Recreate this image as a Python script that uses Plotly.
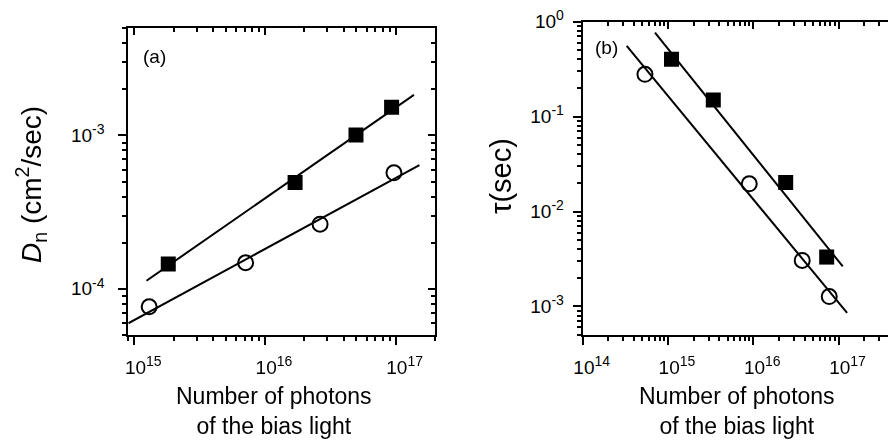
import math
import plotly.graph_objects as go

# ---------------- data ----------------
# Panel (a): D_n vs number of photons
a_sq_x = [1.82e15, 1.70e16, 4.97e16, 9.31e16]
a_sq_y = [1.45e-4, 4.94e-4, 1.007e-3, 1.53e-3]
a_ci_x = [1.30e15, 7.11e15, 2.64e16, 9.70e16]
a_ci_y = [7.64e-5, 1.48e-4, 2.64e-4, 5.71e-4]
a_sq_fit_x = [1.24e15, 1.38e17]
a_sq_fit_y = [1.13e-4, 1.84e-3]
a_ci_fit_x = [9.0e14, 1.52e17]
a_ci_fit_y = [5.96e-5, 6.41e-4]

# Panel (b): tau vs number of photons
b_sq_x = [1.10e15, 3.40e15, 2.40e16, 7.26e16]
b_sq_y = [0.402, 0.150, 0.0202, 3.31e-3]
b_ci_x = [5.37e14, 8.98e15, 3.75e16, 7.78e16]
b_ci_y = [0.279, 0.0196, 3.05e-3, 1.27e-3]
b_sq_fit_x = [7.04e14, 1.12e17]
b_sq_fit_y = [0.766, 2.64e-3]
b_ci_fit_x = [3.28e14, 1.26e17]
b_ci_fit_y = [0.555, 8.53e-4]

# tick labels (base 10 and exponent)
a_xtick_vals = [1e15, 1e16, 1e17]
a_xtick_exp = ["15", "16", "17"]
a_ytick_vals = [1e-4, 1e-3]
a_ytick_exp = ["-4", "-3"]
b_xtick_vals = [1e14, 1e15, 1e16, 1e17]
b_xtick_exp = ["14", "15", "16", "17"]
b_ytick_vals = [1e-3, 1e-2, 1e-1, 1e0]
b_ytick_exp = ["-3", "-2", "-1", "0"]

x_title = "Number of photons<br>of the bias light"
a_y_title = "<i>D</i><sub>n</sub> (cm<sup>2</sup>/sec)"
b_y_title = "\u03c4(sec)"

# ---------------- layout constants ----------------
W, H = 888, 440
FONT = "Arial, Liberation Sans, sans-serif"
TICKFONT = dict(family=FONT, size=19, color="black")


def pow_text(exps):
    return ["10<sup><span style='font-size:14px'>%s</span></sup>" % e for e in exps]


a_xrange = [math.log10(9e14), math.log10(2e17)]
a_yrange = [math.log10(5e-5), math.log10(5e-3)]
b_xrange = [14.0, 17.58]
b_yrange = [math.log10(5e-4), 0.0]


def minor_vals(lo_exp, hi_exp):
    return [m * 10.0 ** e for e in range(lo_exp, hi_exp + 1) for m in range(2, 10)]


def px_x(p):
    return p / W


def px_y(p):
    return 1 - p / H


a_dom_x = [px_x(128.3), px_x(435)]
a_dom_y = [px_y(335), px_y(28.3)]
b_dom_x = [px_x(582.7), 1.0]
b_dom_y = [px_y(335), px_y(21.7)]

fig = go.Figure()

line_style = dict(color="black", width=2)
sq_marker = dict(symbol="square", size=15, color="black", line=dict(width=0))
ci_marker = dict(symbol="circle-open", size=15, color="black", line=dict(width=2, color="black"))

# panel a
fig.add_trace(go.Scatter(x=a_sq_fit_x, y=a_sq_fit_y, mode="lines", line=line_style, xaxis="x", yaxis="y"))
fig.add_trace(go.Scatter(x=a_ci_fit_x, y=a_ci_fit_y, mode="lines", line=line_style, xaxis="x", yaxis="y"))
fig.add_trace(go.Scatter(x=a_sq_x, y=a_sq_y, mode="markers", marker=sq_marker, xaxis="x", yaxis="y"))
fig.add_trace(go.Scatter(x=a_ci_x, y=a_ci_y, mode="markers", marker=ci_marker, xaxis="x", yaxis="y"))
# panel b
fig.add_trace(go.Scatter(x=b_sq_fit_x, y=b_sq_fit_y, mode="lines", line=line_style, xaxis="x2", yaxis="y2"))
fig.add_trace(go.Scatter(x=b_ci_fit_x, y=b_ci_fit_y, mode="lines", line=line_style, xaxis="x2", yaxis="y2"))
fig.add_trace(go.Scatter(x=b_sq_x, y=b_sq_y, mode="markers", marker=sq_marker, xaxis="x2", yaxis="y2"))
fig.add_trace(go.Scatter(x=b_ci_x, y=b_ci_y, mode="markers", marker=ci_marker, xaxis="x2", yaxis="y2"))

# invisible carriers so the top/right tick-only axes exist
ghost = dict(mode="markers", opacity=0, hoverinfo="skip", showlegend=False)
fig.add_trace(go.Scatter(x=a_sq_x, y=a_sq_y, xaxis="x3", yaxis="y", **ghost))
fig.add_trace(go.Scatter(x=a_sq_x, y=a_sq_y, xaxis="x", yaxis="y3", **ghost))
fig.add_trace(go.Scatter(x=b_sq_x, y=b_sq_y, xaxis="x4", yaxis="y2", **ghost))


def main_axis(rng, dom, anchor, tv, tt, minors, standoff, side, mirror=True, shift=0):
    return dict(
        type="log", range=rng, domain=dom, anchor=anchor, side=side,
        showline=True, linecolor="black", linewidth=2, mirror=mirror,
        showgrid=False, zeroline=False,
        ticks="outside", ticklen=8, tickwidth=1.5, tickcolor="black",
        tickmode="array", tickvals=tv, ticktext=tt, tickfont=TICKFONT,
        ticklabelstandoff=standoff, ticklabelshift=shift,
        minor=dict(tickmode="array", tickvals=minors, ticks="outside", ticklen=4,
                   tickwidth=1.5, tickcolor="black", showgrid=False),
        automargin=False,
    )


def mirror_axis(rng, over, anchor, side, tv, minors):
    return dict(
        type="log", range=rng, overlaying=over, anchor=anchor, side=side,
        showline=False, showgrid=False, zeroline=False,
        ticks="inside", ticklen=7, tickwidth=1.5, tickcolor="black",
        tickmode="array", tickvals=tv, showticklabels=False,
        minor=dict(tickmode="array", tickvals=minors, ticks="inside", ticklen=4,
                   tickwidth=1.5, tickcolor="black", showgrid=False),
        automargin=False,
    )


fig.update_layout(
    width=W, height=H,
    margin=dict(l=0, r=0, t=0, b=0),
    paper_bgcolor="white", plot_bgcolor="white",
    showlegend=False,
    font=dict(family=FONT, color="black"),
    xaxis=main_axis(a_xrange, a_dom_x, "y", a_xtick_vals, pow_text(a_xtick_exp),
                    minor_vals(14, 17), 6, "bottom", shift=9),
    yaxis=main_axis(a_yrange, a_dom_y, "x", a_ytick_vals, pow_text(a_ytick_exp),
                    minor_vals(-5, -3), 10, "left"),
    xaxis3=mirror_axis(a_xrange, "x", "y", "top", a_xtick_vals, minor_vals(14, 17)),
    yaxis3=mirror_axis(a_yrange, "y", "x", "right", a_ytick_vals, minor_vals(-5, -3)),
    xaxis2=main_axis(b_xrange, b_dom_x, "y2", b_xtick_vals, pow_text(b_xtick_exp),
                     minor_vals(13, 17), 6, "bottom", shift=9),
    yaxis2=main_axis(b_yrange, b_dom_y, "x2", b_ytick_vals, pow_text(b_ytick_exp),
                     minor_vals(-4, -1), 5, "left", mirror=False),
    xaxis4=mirror_axis(b_xrange, "x2", "y2", "top", b_xtick_vals, minor_vals(13, 17)),
)

annots = [
    dict(text=x_title, x=px_x(274), y=px_y(381), xanchor="center", yanchor="top",
         font=dict(size=23)),
    dict(text=x_title, x=px_x(737), y=px_y(381), xanchor="center", yanchor="top",
         font=dict(size=23)),
    dict(text=a_y_title, x=px_x(31), y=px_y(185), xanchor="center", yanchor="middle",
         textangle=-90, font=dict(size=28)),
    dict(text=b_y_title, x=px_x(501), y=px_y(176), xanchor="center", yanchor="middle",
         textangle=-90, font=dict(size=29)),
    dict(text="(a)", x=px_x(154), y=px_y(57), xanchor="center", yanchor="middle",
         font=dict(size=19)),
    dict(text="(b)", x=px_x(606.5), y=px_y(47.5), xanchor="center", yanchor="middle",
         font=dict(size=19)),
]
for a in annots:
    a.update(xref="paper", yref="paper", showarrow=False)
    a["font"].update(family=FONT, color="black")
fig.update_layout(annotations=annots)

# remove the default 8px page margin so the figure fills the window exactly
fig.write_html("out.html", config={"displayModeBar": False},
               post_script="document.body.style.margin='0';")
